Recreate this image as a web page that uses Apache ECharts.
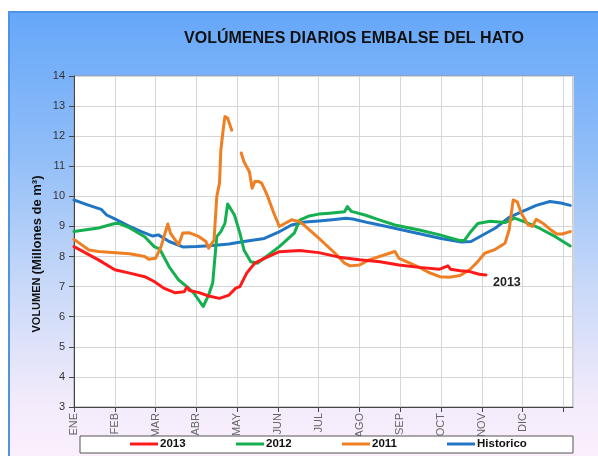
<!DOCTYPE html>
<html><head><meta charset="utf-8">
<script src="https://cdn.jsdelivr.net/npm/echarts@6/dist/echarts.min.js"></script>
<style>
html,body{margin:0;padding:0;background:#fff;}
#wrap{position:relative;width:598px;height:456px;overflow:hidden;background:#fff;}
#bg{position:absolute;left:8px;top:11px;width:600px;height:460px;box-sizing:border-box;border-left:2px solid #4f93e6;border-top:2px solid #4f93e6;
background:linear-gradient(to bottom,#66a7f9 0%,#8fbdf8 30%,#c9d9f8 60%,#f3ebfb 85%,#fdf0fc 100%);}
#chart{position:absolute;left:0;top:0;width:598px;height:456px;}
</style></head>
<body><div id="wrap"><div id="bg"></div><div id="chart"></div></div>
<script>
const monthLabels = ['ENE','FEB','MAR','ABR','MAY','JUN','JUL','AGO','SEP','OCT','NOV','DIC',''];
const yTicks = [3,4,5,6,7,8,9,10,11,12,13,14];

const days2013 = [0,18,30,41,52,59,66,74,81,83,85,92,99,107,114,119,122,127,133,140,151,166,180,195,210,225,239,254,269,275,277,284,291,298,303];
const vals2013 = [8.33,7.89,7.56,7.45,7.33,7.17,6.95,6.8,6.83,6.98,6.87,6.8,6.69,6.61,6.72,6.95,7.0,7.45,7.78,7.94,8.16,8.2,8.13,7.98,7.89,7.83,7.72,7.64,7.58,7.69,7.58,7.53,7.5,7.41,7.39];

const days2012 = [0,18,30,33,41,52,59,63,70,77,83,88,95,99,102,105,108,111,113,118,122,125,130,135,140,151,162,166,173,180,188,199,201,204,214,225,236,254,269,284,287,291,297,306,317,324,331,342,354,365];
const vals2012 = [8.83,8.95,9.1,9.1,8.95,8.66,8.33,8.25,7.66,7.22,7.0,6.79,6.34,6.72,7.12,8.66,8.83,9.1,9.75,9.38,8.78,8.22,7.83,7.78,7.95,8.33,8.78,9.21,9.35,9.41,9.44,9.49,9.66,9.5,9.38,9.21,9.05,8.88,8.72,8.53,8.53,8.78,9.1,9.17,9.13,9.28,9.16,8.95,8.66,8.35];

const days2011 = [0,11,18,41,52,55,60,64,69,71,77,80,85,92,97,99,103,105,107,108,110,111,113,116,118,123,125,129,131,133,136,138,142,147,151,155,160,166,169,180,192,199,203,210,217,232,236,239,247,254,261,269,276,284,291,297,302,309,317,320,323,326,329,334,337,340,345,350,355,359,365];
const vals2011 = [8.57,8.22,8.17,8.09,8.0,7.91,7.94,8.33,9.08,8.77,8.39,8.78,8.79,8.66,8.5,8.28,8.55,9.99,10.44,11.54,12.32,12.65,12.6,12.2,null,11.44,11.15,10.82,10.27,10.49,10.49,10.44,10.05,9.44,9.0,9.1,9.22,9.16,9.05,8.61,8.11,7.78,7.69,7.72,7.89,8.11,8.17,7.94,7.78,7.64,7.47,7.33,7.31,7.37,7.56,7.83,8.11,8.22,8.44,8.88,9.88,9.82,9.44,9.05,9.0,9.24,9.1,8.91,8.75,8.75,8.83];

const daysHist = [0,10,20,24,30,40,50,58,62,70,80,90,100,114,125,140,150,160,170,180,190,200,205,217,230,240,255,270,285,292,300,310,320,330,340,350,358,365];
const valsHist = [9.88,9.72,9.57,9.38,9.25,9.02,8.82,8.68,8.72,8.5,8.32,8.33,8.36,8.42,8.5,8.6,8.8,9.05,9.15,9.18,9.22,9.27,9.25,9.12,9.0,8.9,8.75,8.6,8.48,8.5,8.7,8.95,9.3,9.5,9.7,9.83,9.78,9.7];

const zip = (d, v) => d.map((x, i) => [x, v[i]]);

const chart = echarts.init(document.getElementById('chart'), null, {renderer:'canvas'});
const F = 'Liberation Sans, Arial, sans-serif';
function line(name, color, d, v, extra) {
  return Object.assign({
    name, type:'line', data: zip(d, v), showSymbol:false, symbol:'none',
    lineStyle:{color, width:3, cap:'round', join:'round'}, itemStyle:{color},
    connectNulls:false, animation:false
  }, extra || {});
}
const legendPos = [[130,'2013'],[236,'2012'],[342,'2011'],[447,'Historico']];
chart.setOption({
  animation:false,
  backgroundColor:'transparent',
  title:{text:'VOLÚMENES DIARIOS EMBALSE DEL HATO', left:349, top:26, textAlign:'center',
    textStyle:{fontFamily:F, fontSize:16, fontWeight:'bold', color:'#111'}},
  grid:{left:74, right:25, top:76, bottom:49, show:true, backgroundColor:'#fff', borderColor:'#999', borderWidth:1},
  xAxis:{type:'value', min:0, max:367, interval:30,
    axisLine:{show:true, lineStyle:{color:'#444', width:1}},
    axisTick:{show:true, length:5, lineStyle:{color:'#444'}},
    splitLine:{show:true, lineStyle:{color:'#d6d6d6', width:1}},
    axisLabel:{rotate:90, fontFamily:F, fontSize:11, color:'#666', margin:6, showMaxLabel:false,
      formatter:v => (v % 30 === 0 && v/30 < monthLabels.length) ? monthLabels[v/30] : ''}},
  yAxis:{type:'value', min:yTicks[0], max:yTicks[yTicks.length-1], interval:1,
    axisLine:{show:true, lineStyle:{color:'#444', width:1}},
    axisTick:{show:true, length:5, lineStyle:{color:'#444'}},
    splitLine:{show:true, lineStyle:{color:'#d6d6d6', width:1}},
    axisLabel:{fontFamily:F, fontSize:11, color:'#333', margin:9}},
  legend: legendPos.map(([x, n]) => ({data:[{name:n, icon:'rect'}], left:x, top:438, itemWidth:28, itemHeight:3, itemGap:0,
    textStyle:{fontFamily:F, fontSize:11.5, fontWeight:'bold', color:'#111', padding:[0,0,0,-3]}, padding:0, selectedMode:false})),
  graphic:[
    {type:'rect', shape:{x:80, y:436, width:493, height:17}, style:{fill:'#fff', stroke:'#555', lineWidth:1}, z:1},
    {type:'text', x:37, y:254, rotation:Math.PI/2, z:5,
      style:{text:'{a|VOLUMEN }{b|(Millones de m³)}', align:'center', verticalAlign:'middle',
        rich:{a:{fontFamily:F, fontSize:11, fontWeight:'bold', fill:'#111'}, b:{fontFamily:F, fontSize:13, fontWeight:'bold', fill:'#111'}}}}
  ],
  series:[
    line('2013', '#ff1a1a', days2013, vals2013, {z:5, endLabel:{show:true, formatter:'2013', offset:[-1,8], fontFamily:F, fontSize:12.5, fontWeight:'bold', color:'#222'}}),
    line('2012', '#14b050', days2012, vals2012, {z:3}),
    line('2011', '#ef7f22', days2011, vals2011, {z:4}),
    line('Historico', '#2176c4', daysHist, valsHist, {z:2})
  ]
});
</script></body></html>
